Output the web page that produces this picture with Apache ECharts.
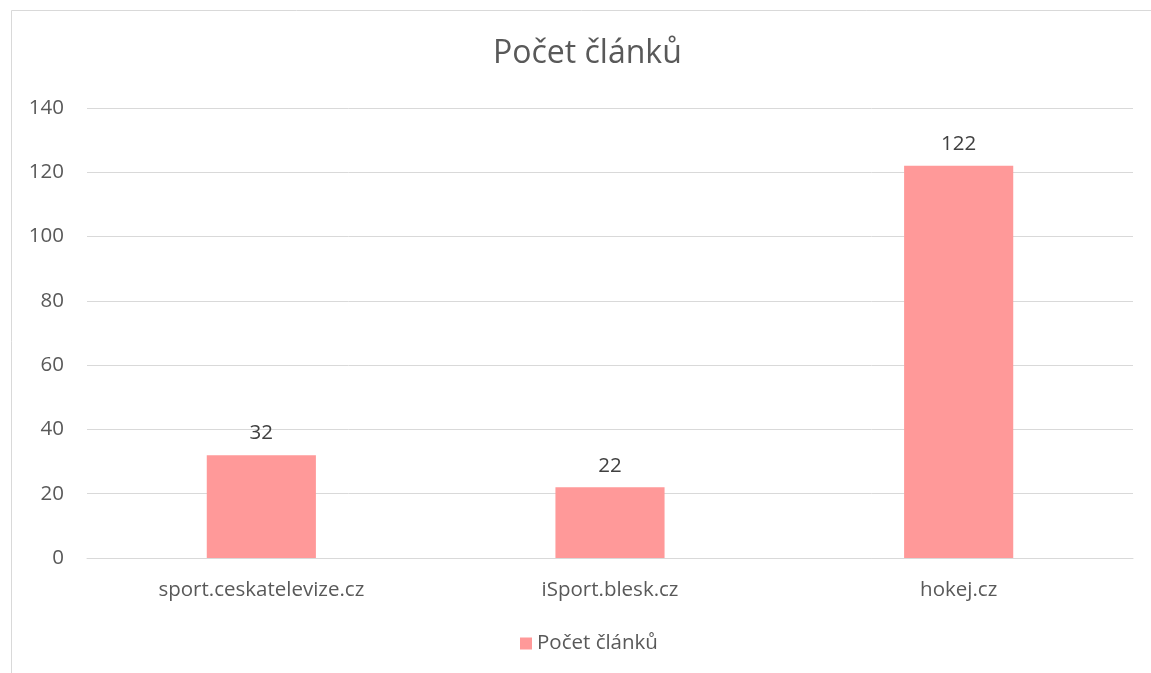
<!DOCTYPE html>
<html><head><meta charset="utf-8">
<script src="https://cdn.jsdelivr.net/npm/echarts@6/dist/echarts.min.js"></script>
<style>html,body{margin:0;padding:0;background:#fff}#c{width:1151px;height:673px}</style>
</head><body><div id="c"></div>
<script>
const categories = ['sport.ceskatelevize.cz', 'iSport.blesk.cz', 'hokej.cz'];
const values = [32, 22, 122];
const seriesName = 'Počet článků';
const titleText = 'Počet článků';
const font = '"Open Sans", "Liberation Sans", sans-serif';
const chart = echarts.init(document.getElementById('c'), null, {renderer: 'canvas'});
chart.setOption({
  animation: false,
  backgroundColor: '#ffffff',
  title: {text: titleText, left: 488, top: 33, textStyle: {fontFamily: font, fontSize: 32, fontWeight: 'normal', color: '#595959'}},
  graphic: [
    {type: 'line', shape: {x1: 11.5, y1: 10.5, x2: 1151, y2: 10.5}, style: {stroke: '#d9d9d9', lineWidth: 1}},
    {type: 'line', shape: {x1: 11.5, y1: 10.5, x2: 11.5, y2: 673}, style: {stroke: '#d9d9d9', lineWidth: 1}}
  ],
  legend: {data: [seriesName], bottom: 14, left: 515, itemWidth: 12, itemHeight: 12, icon: 'rect', itemGap: 8,
    textStyle: {fontFamily: font, fontSize: 20.5, color: '#595959'}},
  grid: {left: 87, right: 18, top: 108, bottom: 115},
  xAxis: {type: 'category', data: categories,
    axisLine: {show: true, lineStyle: {color: '#d9d9d9', width: 1}},
    axisTick: {show: false},
    axisLabel: {fontFamily: font, fontSize: 20.5, color: '#595959', margin: 22}},
  yAxis: {type: 'value', min: 0, max: 140, interval: 20,
    axisLine: {show: false}, axisTick: {show: false},
    splitLine: {lineStyle: {color: '#d9d9d9', width: 1}},
    axisLabel: {fontFamily: font, fontSize: 20.5, color: '#595959', margin: 23}},
  series: [{name: seriesName, type: 'bar', data: values, barWidth: '31.3%',
    itemStyle: {color: '#ff9999'},
    label: {show: true, position: 'top', distance: 11, fontFamily: font, fontSize: 20.5, color: '#404040'}}]
});
</script></body></html>
